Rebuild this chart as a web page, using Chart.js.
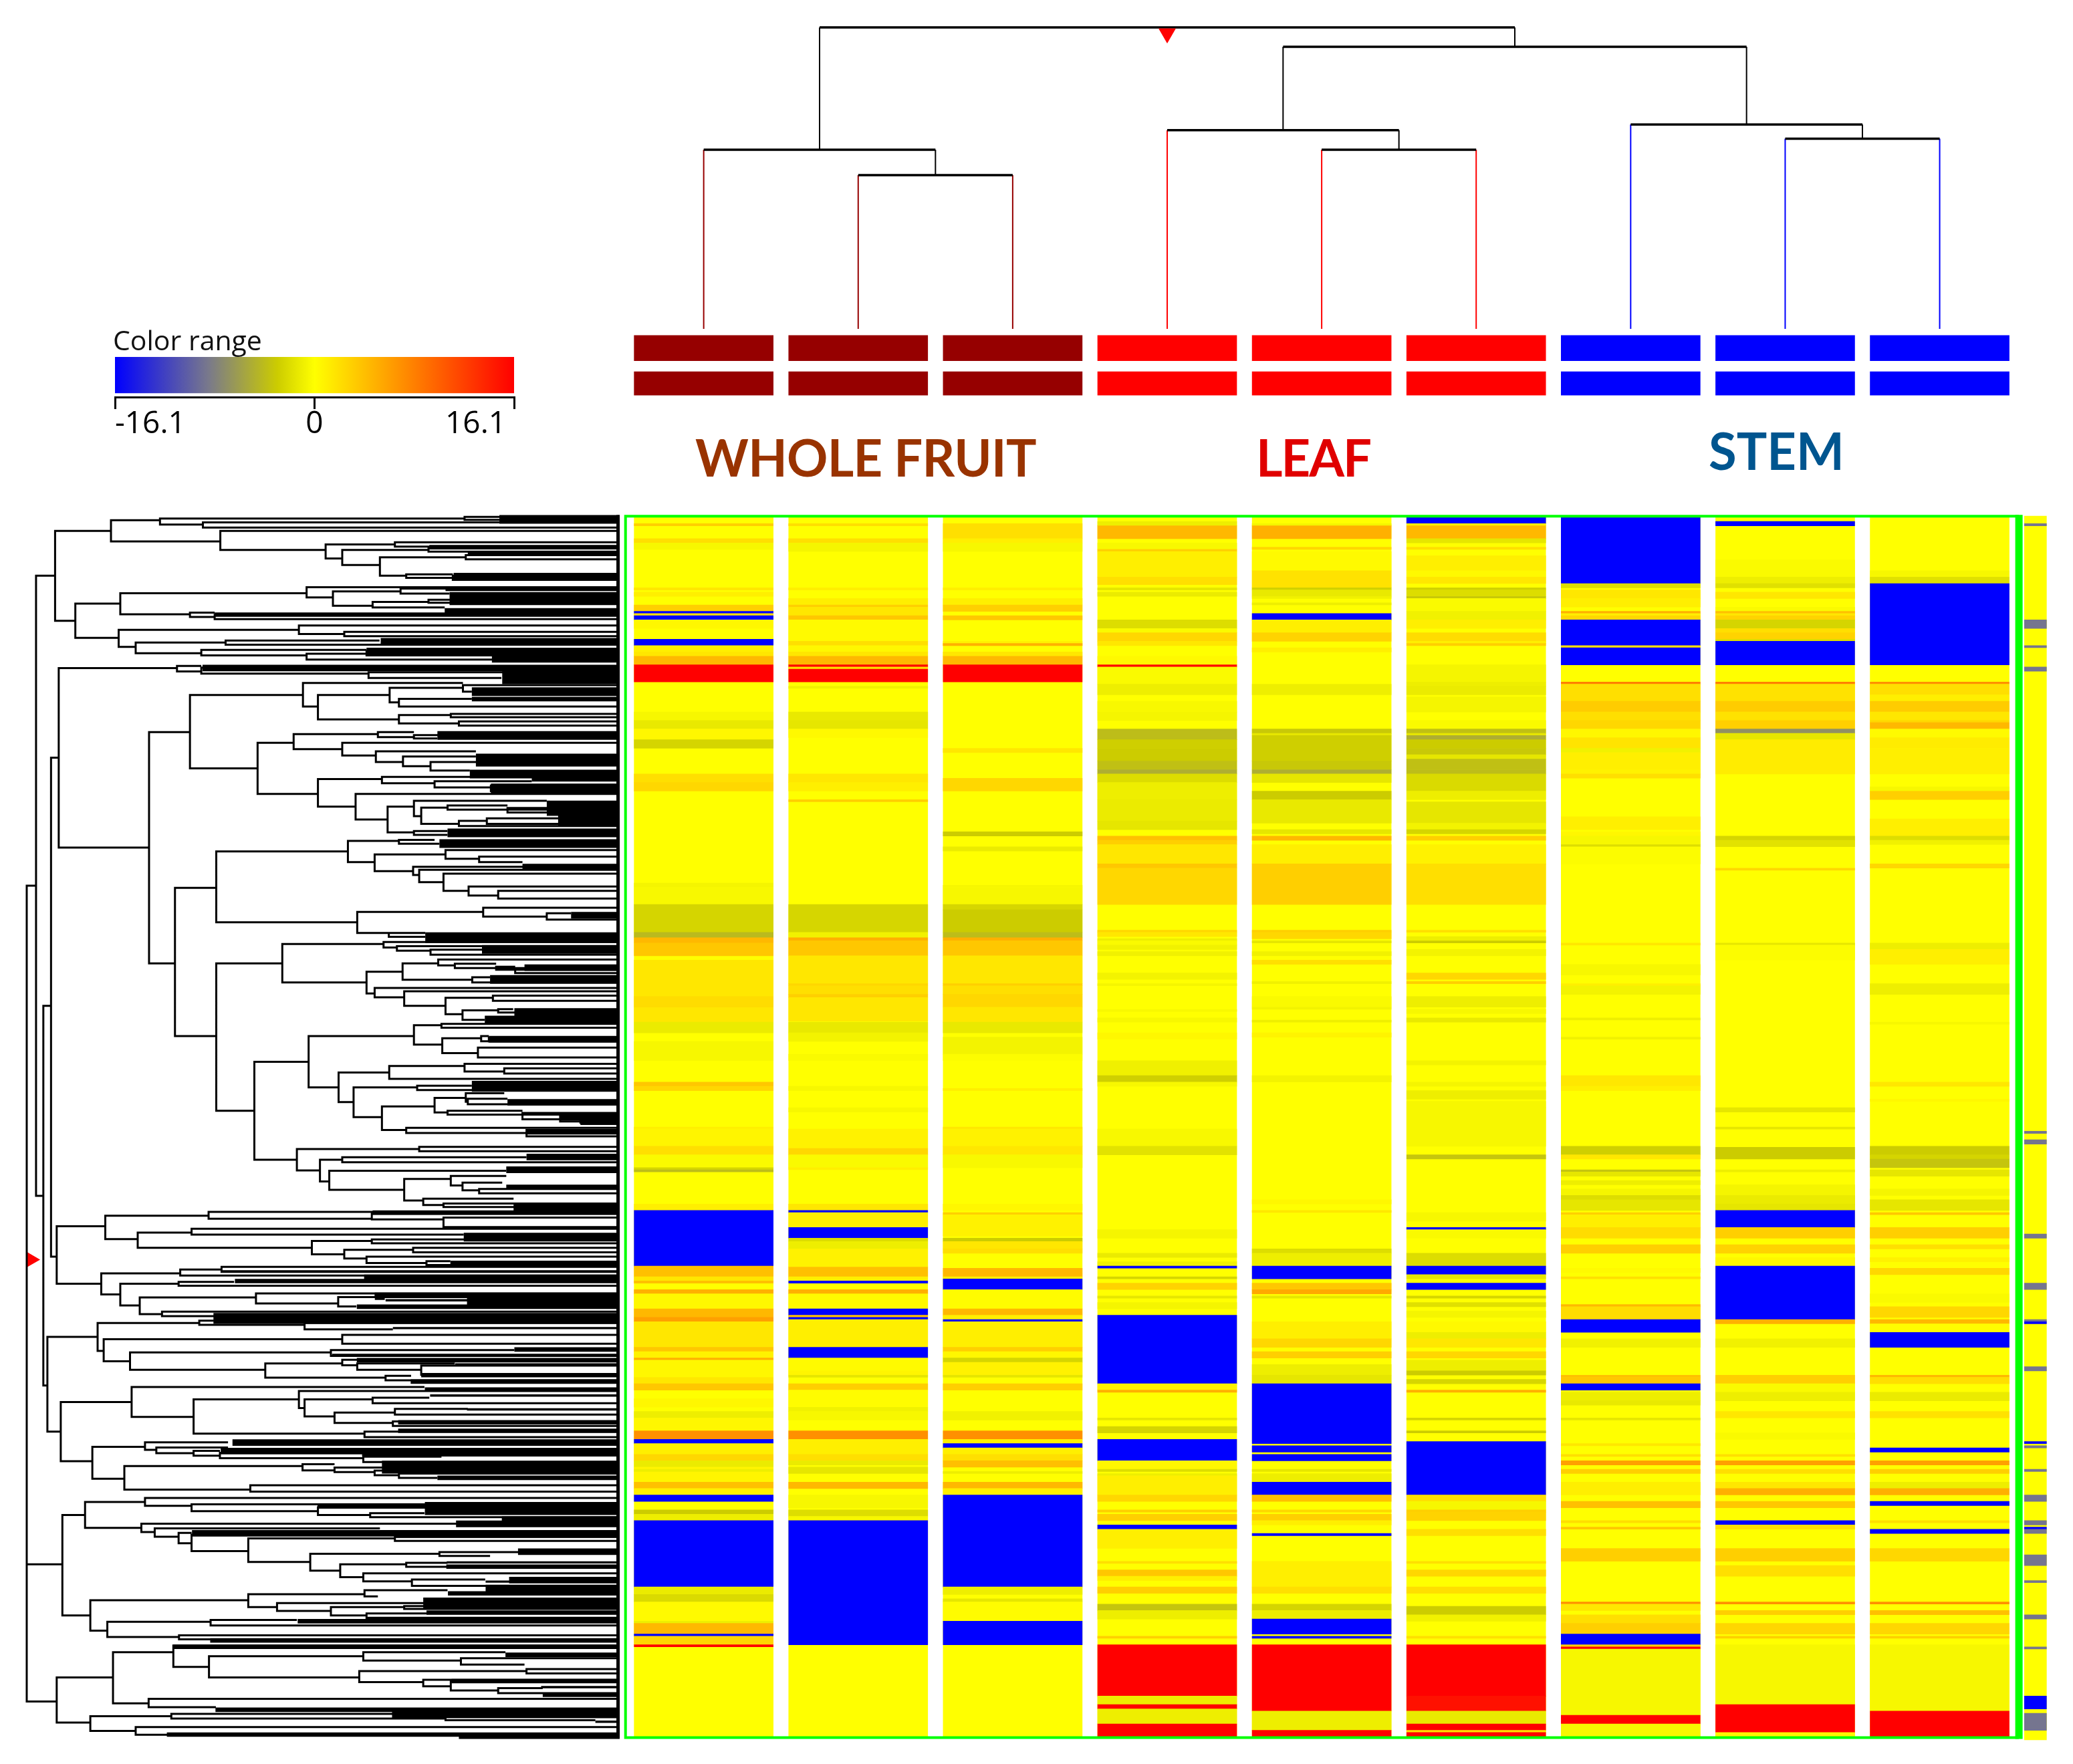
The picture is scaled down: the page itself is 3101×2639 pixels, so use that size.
<!DOCTYPE html>
<html>
<head>
<meta charset="utf-8">
<title>Expression heatmap</title>
<script src="https://cdn.jsdelivr.net/npm/chart.js@4"></script>
<style>
  html, body { margin: 0; background: #fff; }
  body { position: relative; width: 3101px; height: 2639px; overflow: hidden; }
  canvas { position: absolute; }
  #sampleTree { left: 914px; top: 20px; }
  #rangeBar { left: 100px; top: 534px; }
  #rowTree { left: 0; top: 761px; }
  #heatmap { left: 914px; top: 761px; }
  .label { position: absolute; white-space: nowrap; line-height: 1; }
  .group { font: bold 76px Lato, sans-serif; }
  #rangeTitle { left: 169px; top: 480px; font: 41px "Open Sans", sans-serif; color: #111; }
</style>
</head>
<body>
<canvas id="sampleTree" width="2184" height="580"></canvas>
<canvas id="rangeBar" width="750" height="120"></canvas>
<canvas id="rowTree" width="930" height="1850"></canvas>
<canvas id="heatmap" width="2184" height="1850"></canvas>
<div class="label" id="rangeTitle">Color range</div>
<div class="label group" style="left:1040px;top:638px;color:#993300;letter-spacing:-.7px">WHOLE FRUIT</div>
<div class="label group" style="left:1879px;top:638px;color:#e00000;letter-spacing:-2px">LEAF</div>
<div class="label group" style="left:2556px;top:628px;color:#00558f">STEM</div>
<script>
const rangeMax = 16.1;
const rangeTicks = [-16.1, 0, 16.1];
const rowCount = 570;

// bands per sample: first row, last row, log ratio (everything else is 0)
const wholeFruit1 = [[3,4,3],[10,12,2],[12,15,-.5],[33,34,1.5],[35,37,1],[41,44,3],[44,45,-16.1],[45,46,2],[46,48,-16.1],[48,52,.5],[57,60,-16.1],[60,63,1],[63,65,1.5],[65,69,4.5],[69,77,16.1],[91,95,-.5],[95,99,-1.3],[99,104,.5],[104,108,-2.5],[120,124,2],[124,128,2.5],[171,173,-.6],[173,181,-.4],[181,194,-2.5],[194,196.5,-4.2],[196.5,199,4.5],[199,205,3.5],[207,236,1.5],[224,229,2.2],[236,241,-1.2],[245,254,-.5],[264,266,3.5],[266,268,2.5],[285,286,1],[286,294,.6],[294,298,2],[298,304,-.3],[304,305,-2.5],[305,306,-4],[321,324,1],[324,350,-16.1],[350,355,4],[355,358,1.5],[357,358,4],[361,363,5],[363,370,.5],[370,374,4.5],[374,376,6],[376,388,1.5],[388,390,3.5],[390,393,.8],[393,394,5],[394,402,.5],[402,405,1.5],[405,408,3.5],[412,416,.5],[418,421,-1],[421,427,.5],[427,431,7],[431,433,-16.1],[433,438,1],[438,441,2.5],[441,444,-1.2],[444,451,.6],[445,446,-1],[451,454,4],[454,457,1],[457,460,-16.1],[464,466,-3],[466,469,-1],[469,500,-16.1],[500,503.5,-1.2],[503.5,507,-2.2],[507,516,.3],[516,517,-1],[517,522,4.5],[522,523,-16.1],[523,527,2.5],[527,528,16.1]];
const wholeFruit2 = [[3,4,2],[10,12,2],[12,16,-.6],[33,34,1],[38,41,1],[41,42,3],[42,46,1.5],[46,48,3.5],[48,58,.3],[58,60,2],[60,63,.5],[63,65,1.5],[65,69,4.5],[69,70,16.1],[70,71,2],[71,77,16.1],[79,80,-.8],[91,95,-1.3],[95,99,-1.5],[99,103,.4],[120,124,1.5],[124,128,1],[132,133,3],[181,194,-2.4],[194,196.5,-.8],[196.5,198,5],[198,205,3.5],[205,218,1.5],[218,219,2.5],[219,223,2],[223,224.5,3],[224.5,235.5,1.5],[236,241,-1.3],[241,245,-.7],[251,254,-.3],[266,268,-.5],[276,278,-.5],[286,295,.8],[295,298,2.5],[298,304,-.3],[304,305,1],[321,324,1.5],[324,325,-16.1],[325,332,1],[332,337,-16.1],[337,338.5,-2],[338.5,342,-1],[342,350.5,.8],[350.5,355,4],[355,357,1],[357,358,-16.1],[361,363,5],[363,370,.4],[370,373,-16.1],[373,374,4],[374,375,-16.1],[375,388,1],[388,393,-16.1],[393,399,.3],[399,401,.6],[401,402,-1.5],[405,408,3],[408,416,.2],[416,418,-.8],[418,422,-.5],[427,431,7],[431,438,1],[438,441,2],[441,443,-1.2],[444,447,-1.5],[451,454,4.5],[457,463,-.5],[464,467,-2],[467,469,-.5],[469,527,-16.1]];
const wholeFruit3 = [[3,10,2],[10,12,1],[12,16,-.5],[33,34,1],[38,41,1],[41,44,3],[46,48,3.5],[58,60,.8],[59,60,5],[63,65,1.5],[65,69,4.5],[69,77,16.1],[108,110,1.5],[122,128,2.5],[147,149,-3],[154,156,-1.2],[172,173,-.5],[173,181,-.5],[181,183.5,-2.4],[183.5,194,-3],[194,196.5,-4],[196.5,198,5],[198,205,3.5],[205,218,1.5],[218,219,3],[219,223,2],[223,229,2.5],[229,236,1.5],[236,241,-1.3],[243,251,-.7],[251,254,-.2],[267,268,1],[285,286,1.5],[286,294,.8],[294,298,1.5],[298,304,-.4],[321,324,.5],[325,326,3],[326,336,.8],[337,338.5,-3],[338.5,342,1.5],[342,344,2],[351,355,4.5],[355,356,1],[356,361,-16.1],[361,370,.2],[370,373,4.5],[373,375,1],[375,376,-16.1],[376,388,1],[388,390,3],[390,393,.5],[393,395,-2.5],[395,401,.8],[401,402,-1.5],[405,408,3],[418,422,-.8],[427,431,7],[431,433,1],[433,435,-16.1],[435,438,1],[438,441,2],[441,444,4],[446,447,-1],[451,454,4.5],[454,457,1],[457,500,-16.1],[500,503.5,-1],[505.5,507,-1.5],[507,516,.2],[516,527,-16.1]];
const leaf1 = [[2,4,-1],[4,10,4.5],[12,15,-.4],[15,16,3],[16,28,1],[28,31.5,2],[33,34,-1.5],[35,37,-1.2],[48,52,-2],[52,54,-.3],[54,58,2.5],[58,60,1.5],[65,69,.4],[69,70,16.1],[70,78,-.3],[78,83,-1],[86,91,-.4],[91,95,-.6],[99,104,-4],[104,108,-2.8],[108,114,-3],[114,118,-3.8],[118,120,-5],[120,124,-2],[124,132,-1],[132,142,-1.2],[142,146,-1.5],[149,151,4],[151,153,3],[153,162,1.5],[162,164,3.5],[164,181,2.5],[193,194,2.5],[194,196,1.5],[197,198,-1],[198,200,-.3],[200,202,-.8],[203,205,-.8],[213,216,-.7],[218,219,-.6],[230,231,-.4],[234,236,-.5],[241,244,.5],[254,261,-.9],[261,264,-2.8],[264,266,-.5],[286,294,-.4],[294,298,-1.7],[333,337,-.6],[344,346,-1.2],[348,350,-.8],[350,351,-16.1],[355,356,-2.5],[358,361,2.8],[364,365,-1.5],[367,370,-.6],[373,405,-16.1],[405,408,.8],[408,409,5],[421,422,-1.5],[425,428,-2.5],[431,441,-16.1],[441,445,.5],[445,446,-2],[447,448,-1],[448,457,1],[457,460,2.5],[464,465,3],[466,469,3],[471,473,-16.1],[473,482,1],[488,489,2],[492,495,3.5],[495,497,1],[500,503,3],[508,511,-3.5],[511,515,-1],[523,524,3],[527,551,16.1],[551,555,-1],[555,557,16.1],[557,564,-1],[564,570,16.1]];
const leaf2 = [[3,4,-.6],[4,10,5],[14,15,2.5],[16,25,.3],[25,33,1.8],[33,34,-2.7],[34,37,-1.3],[37,38,-.8],[40,41,-1],[45,48,-16.1],[48,54,1],[54,58,2.8],[61,63,1],[78,83,-1],[99,101,-3.3],[101,102,-1.5],[102,114,-2.8],[114,118,-3.3],[118,120,-5],[120,124,-1.5],[128,132,-3],[132,143,-1.3],[146,148,-1.5],[149,151,4.5],[153,162,1],[162,181,3],[193,194,3],[194,197,2.5],[198,199,-1.5],[203,205,-.8],[207,209,2],[217,218,-.8],[224,229,-.3],[229,230,-.7],[235,236,-1],[241,243,.7],[261,264,-.7],[319,321,.5],[324,325,1.5],[342,344,-2],[344,350,-1],[350,356,-16.1],[358,361,3.5],[361,363,5.5],[364,365,-1.5],[376,384,1],[384,388,2.5],[390,393,3],[396,401,-1],[401,405,-1.5],[405,433,-16.1],[434,437,-16.1],[438,441,-16.1],[445,446,-1.5],[447,451,-1],[451,457,-16.1],[457,460,4],[464,465,2.5],[466,469,3],[469,471,1],[475,476,-16.1],[488,500,1],[500,503,2],[508,511,-2.5],[511,515,-1],[515,522,-16.1],[523,524,-16.1],[527,558,16.1],[558,567,-1],[567,570,16.1]];
const leaf3 = [[0,3,-16.1],[3,4,1],[4,10,4.5],[10,12,-1.5],[14,15,2],[18,25,1],[25,28,.4],[28,31,1.5],[33,34,-2.7],[34,37,-2],[37,38,-3.3],[38,44,-.3],[44,48,-.8],[48,52,1],[54,58,2.2],[58,59,1],[59,60,3],[69,77,-.6],[77,79,-1],[79,83,-1.2],[84,91,-.6],[95,99,-.3],[99,101,-3.8],[101,102,-1.5],[102,104,-5],[104,108,-3],[108,111,-3.3],[111,113,-1.5],[113,118,-3.8],[118,120,-4],[120,128,-2.2],[128,132,-1],[133,143,-1.5],[143,146,-.7],[146,148,-2.5],[149,151,3],[153,162,.8],[162,181,2],[193,194,2],[196,198,-1],[198,199,-3],[202,205,-.7],[213,216,2.5],[217,218,3],[224,229,-1],[230,232,-.5],[234,236,-1.3],[254,256,-.7],[264,266,-.6],[268,272,-1],[273,276,-.5],[276,294,-.5],[298,300,-3.5],[325,329,-.5],[332,333,-16.1],[333,337,-.3],[344,350,-2],[350,354,-16.1],[354,356,-1.5],[358,361,-16.1],[364,365,-2.5],[367,369,-1.8],[371,374,-.6],[376,381,.4],[381,384,-1],[384,388,1.5],[390,393,2.5],[394,399,-1],[399,401,-3],[403,405,-2.4],[408,409,5],[421,422,-2.5],[427,428,-3],[432,457,-16.1],[457,460,2],[460,464,-.5],[464,465,3],[465,469,2.8],[473,476,2],[488,489,2],[492,495,2.5],[500,503,2],[509,513,-3],[513,516,-.8],[523,524,2],[527,551,16.1],[551,558,15],[558,564,-1.3],[564,567,16.1],[567,568,2],[568,570,16.1]];
const stem1 = [[0,31,-16.1],[31,33,-2],[34,38,1.5],[38,42,1],[44,45,5],[45,46,1],[46,48,2.5],[48,60,-16.1],[60,61,2],[61,69,-16.1],[77,78,8],[78,86,2],[86,91,3.2],[91,95,2],[95,99,2.5],[99,103,.5],[103,108,1.7],[108,110,-.8],[110,118,1],[118,120,.8],[120,122,2],[140,146,1],[147,149,.5],[149,153,-.5],[153,154,-2],[154,162,-.2],[199,200,1.5],[209,214,-.5],[218,219,1],[219,223,-.7],[234,235,-1],[243,244,-.8],[261,266,1.5],[266,268,1],[294,298,-2.8],[298,300,1.5],[305,306,-3.5],[306,308,-1.5],[310,312,-1],[314,317,-.6],[317,319,-2],[319,324,-1.5],[325,326,3],[326,332,1],[332,337,2.2],[340,344,3],[351,353,.3],[355,356,2],[368,369,4.5],[369,375,2.2],[375,381,-16.1],[384,388,-.8],[401,402,4],[402,405,3.5],[405,408,-16.1],[409,413,-1],[413,415,-1.3],[421,422,-1.5],[433,434,1.5],[438,439,2],[441,443,6],[445,447,3],[451,457,1],[460,463,4],[469,470,2],[472,473,3.5],[482,488,3],[507,508,7],[508,511,1.5],[513,517,2],[517,522,3],[522,527,-16.1],[527,528,3],[528,529,16.1],[529,560,-.5],[560,564,16.1],[564,570,-.5]];
const stem2 = [[2,4,-16.1],[20,28,-.3],[28,31,-1],[31,33,-1.8],[35,38,1.5],[42,44,-.3],[44,45,4],[45,46,1.5],[46,48,2.8],[48,52,-2.5],[52,54,2],[54,57,2.8],[57,58,-2],[58,69,-16.1],[77,78,8],[78,86,1.8],[86,91,3.2],[91,95,1.8],[95,99,3],[99,101,-7],[101,104,-1.5],[104,120,1.2],[149,151,-2.5],[151,154,-1.7],[164,165,2.5],[199,200,-1.5],[200,207,-.2],[276,278,-1.5],[285,286,-1.5],[294.5,300,-3],[305,306,-1],[312,324,-.6],[317,321,-1.2],[321,324,-1.5],[324,332,-16.1],[332,337,3],[340,344,2.8],[346,350,.5],[350,375,-16.1],[375,377,5],[384,388,-.8],[401,405,3],[405,409,-.3],[409,413,-1],[418,421,1.5],[428,431,-.3],[438,439,2],[441,443,6],[445,447,2],[451,454,1.5],[454,457,5],[460,463,3.5],[469,471,-16.1],[471,473,2],[482,488,3],[490,495,2],[507,508,7],[511,513,3],[517,522,2.5],[523,524,3],[527,555,-.5],[555,568,16.1],[568,570,.5]];
const stem3 = [[25,28,-.5],[28,31,-1.8],[31,69,-16.1],[77,78,7],[78,83,2],[83,86,1],[86,91,3.2],[91,95,1.5],[95,96,2.5],[96,99,4.5],[99,103,.3],[103,108,1.2],[108,120,1],[126,128,-.5],[128,132,3],[141,149,1],[149,151,-2],[151,153,-.8],[162,164,2.5],[199,202,-1],[202,205,1],[205,209,1],[218,223,-1],[236,237,-.5],[264,266,1.5],[272,273,.5],[294,298,-3],[298,300,-2.5],[300,304,-3.5],[305,308,-1.5],[314,317,-.6],[319,324,-1.5],[325,326,3.5],[332,337,3],[340,342,2],[346,348,.8],[351,354,2.5],[363,367,-.3],[369,374,2.5],[375,377,4.5],[377,381,.2],[381,388,-16.1],[401,402,4.5],[402,405,2],[409,413,-1.2],[418,421,1.8],[435,437,-16.1],[441,443,6],[445,447,3],[451,454,-1],[454,457,5],[460,462,-16.1],[469,470,2],[473,475,-16.1],[482,488,2.5],[507,508,7],[511,513,4],[517,522,2.5],[523,524,3],[527,558,-.5],[558,570,16.1]];
const summaryStrip = [[3,4,-8.8],[48,52,-8.8],[60,61,-8.8],[70,72,-8.8],[287,288,-8.8],[291,293,-8.8],[335,337,-8.8],[358,361,-8.8],[375,376,-8.8],[376,377,-16.1],[397,399,-8.8],[432,433,-16.1],[434,435,-8.8],[445,446,-8.8],[457,460,-8.8],[469,471,-8.8],[472,473,-16.1],[473,475,-8.8],[485,490,-8.8],[497,498,-8.8],[513,515,-8.8],[528,529,-8.8],[551,557,-16.1],[559,567,-8.8]];

const samples = ["Whole fruit 1", "Whole fruit 2", "Whole fruit 3", "Leaf 1", "Leaf 2", "Leaf 3", "Stem 1", "Stem 2", "Stem 3"];
const sampleBands = [wholeFruit1, wholeFruit2, wholeFruit3, leaf1, leaf2, leaf3, stem1, stem2, stem3];
const sampleColors = ["#960000", "#960000", "#960000", "#ff0000", "#ff0000", "#ff0000", "#0000ff", "#0000ff", "#0000ff"];

// sample tree merges: left, right, height, left child height, right child height
const sampleMerges = [[1,2,.51,0,0],[0,1.5,.594,0,.51],[4,5,.594,0,0],[3,4.5,.659,0,.594],[7,8,.631,0,0],[6,7.5,.678,0,.631],[3.75,6.75,.936,.659,.678],[.75,5.25,1,.594,.936]];
const trackUpper = [-0.106, -0.022];
const trackLower = [-0.22, -0.142];

// row tree brackets: depth, top row, top child depth, bottom row, bottom child depth
const rowBrackets = [[395,.6,1147,3.4,501],[1147,-.2,1233,1.2,1530],[501,2.4,1530,4.8,1530],[274,1.4,395,11.3,544],[544,6.4,1530,15.3,804],[804,12.7,975,19.3,845],[975,11.7,1530,13.7,1530],[845,15.3,1058,22.3,938],[1058,14.5,1530,16.1,1530],[938,18.7,1150,27.3,1003],[1150,17.7,1530,19.7,1530],[1003,26.7,1118,28.3,1530],[1118,27.3,1530,29.3,1530],[136,6.4,274,48.4,186],[186,40.4,297,56.4,293],[297,35.5,757,45.4,469],[757,32.7,1530,37.5,822],[822,34.7,989,41.4,920],[989,33.3,1530,35.7,1110],[920,39.6,1058,42.2,1098],[1058,38.6,1228,40,1530],[469,44.6,530,46.6,530],[530,45.6,1530,47.6,1530],[293,52.6,738,60.6,335],[738,50.6,1530,54.6,850],[850,53.6,1530,55.6,1530],[335,58.6,557,63.6,497],[557,57.6,937,59.6,1530],[497,62,905,64.6,757],[905,62.6,1530,64.6,1530],[757,63.8,1530,66.5,1217],[1217,65.5,1530,67.5,1530],
[89,27.3,136,317.2,107],[66,172.2,89,553.5,140],[66,489.4,154,489.4,154],[107,228.4,126,405.8,117],[126,112.4,145,345.6,140],[145,70.5,437,154.4,368],[437,69.5,497,72.1,497],[497,70.3,1530,73.1,910],[910,72.5,1360,75.1,1238],[368,100.4,469,208.5,432],[469,83.1,748,117.4,636],[748,77.5,1143,88.5,785],[1143,78.5,1530,81.5,1165],[785,83.1,962,94.5,985],[962,79.7,1143,86.5,985],[985,84.9,1165,88.5,1530],[985,92.5,1113,96.4,1133],[1113,91.9,1530,93.5,1530],[1133,95.4,1530,97.4,1530],[636,105.4,725,129.3,785],[725,101.4,933,108.4,845],[933,100.4,1022,102.8,1022],[1022,101.8,1530,103.4,1080],[845,105.4,1530,111.4,928],[928,109.4,1175,114.4,995],[995,111.8,1175,116.4,1063],[1063,114.4,1345,118.4,1160],[785,122.4,943,135.3,878],[943,121.4,1313,124.3,1073],[1073,123.4,1313,126.3,1212],[1212,125.4,1530,128,1530],[878,129.3,1530,141.3,957],[957,135.3,1022,147.3,1022],[1022,132.5,1350,139.7,1040],[1040,135.7,1105,143.3,1133],[1105,134.7,1253,136.7,1530],[1253,135.9,1378,138,1530],[1133,141.9,1202,144.3,1530],[1202,140.7,1530,143.3,1530],[1022,146.7,1105,148.5,1105],
[432,173.2,534,242.5,534],[534,156.2,859,189.3,882],[859,151.3,985,161.2,925],[985,150.8,1073,152.6,1085],[925,157.6,1100,165.4,1020],[1100,155.6,1530,159.6,1183],[1183,158.6,1530,161.2,1290],[1020,163.4,1530,167.2,1035],[1035,164.8,1530,170.6,1095],[1095,166.6,1530,174.6,1157],[1157,172.6,1530,176.8,1230],[1230,174.6,1530,178.2,1530],[882,184.5,1193,194.3,960],[1193,182.5,1530,186.7,1350],[1350,185.1,1410,188.1,1530],[960,194.3,1050,196.1,1050],[534,208.5,697,277.4,628],[697,199.5,947,217.4,905],[947,198.5,1530,201.1,980],[980,200.5,1190,202.6,1063],[1063,202.1,1530,204.5,1530],[905,212.4,994,222.6,925],[994,208.5,1082,216.2,1166],[1082,206.7,1530,209.5,1123],[1123,208.7,1225,210.7,1530],[1225,210.1,1272,211.5,1530],[1272,211.1,1295,213.1,1530],[1166,215,1210,217.4,1530],[925,220,1530,224.4,998],[998,221.6,1530,228.4,1100],[1100,224.6,1217,232.3,1142],[1217,223.6,1530,226,1530],[1142,230.5,1230,234.9,1197],[1230,229.9,1267,231.5,1530],
[628,254.5,762,300.3,733],[762,242.5,1022,266.5,836],[1022,237.4,1090,246.5,1092],[1090,236.8,1530,238.6,1530],[1092,243.5,1188,250.5,1180],[1188,242.5,1207,244.9,1530],[1207,243.3,1530,245,1530],[1180,247.9,1530,252.5,1530],[836,259.5,961,273.4,873],[961,256.5,1147,262.5,1530],[1147,255.5,1530,259.1,1245],[1245,257.6,1530,260,1530],[873,266.5,1030,280.4,943],[1030,265.7,1165,267.7,1530],[943,275.4,1073,286.4,1003],[1073,271.4,1150,278.2,1105],[1150,269.2,1245,273.2,1155],[1155,271.8,1253,274.4,1530],[1105,277.4,1290,279.2,1530],[1290,278.4,1530,281.4,1383],[1383,279.8,1530,282.4,1433],[1433,281.4,1530,283,1530],[1003,285.4,1530,287.8,1300],[1300,286.4,1530,289.4,1530],[733,295.3,1035,305.3,790],[1035,294.3,1530,296.3,1530],[790,300.3,845,310.5,813],[845,299.1,1300,301.5,1530],[813,305.5,1250,314.4,998],[998,309.3,1113,319.4,1045],[1113,307.9,1250,312.3,1142],[1142,311,1240,314.6,1183],[1183,314,1530,316,1530],[1045,318.5,1268,321.5,1095],[1095,320.8,1530,322.4,1530],
[140,331.4,260,358.3,250],[260,326.5,515,337.4,340],[515,324.7,1530,327.9,918],[918,325.6,1530,328.2,1095],[1095,327.3,1530,331.8,1530],[340,334.4,473,341.5,770],[473,332.6,1530,335.3,1145],[770,338.3,918,344.5,850],[918,337.6,1530,339.4,1530],[850,342.4,1020,346.5,905],[1020,341.5,1530,343.6,1530],[905,345.6,1530,348.6,1053],[1053,347.7,1112,349.5,1530],[250,353.4,445,363.3,297],[445,351.6,547,354.4,1530],[547,350.4,1530,352.7,1530],[297,358.3,441,368.4,345],[441,357.4,578,359.2,1530],[345,364.7,632,372.5,400],[632,362.8,928,367.5,835],[928,362.8,1530,365.4,950],[835,364.5,1530,368.9,880],[400,371.3,1530,373.4,1530],
[117,383.1,241,427.4,150],[241,376.6,492,389.7,256],[492,375.5,528,377.5,752],[752,376.6,1530,379.6,970],[256,384.2,845,394.5,321],[845,382.2,1530,386.3,1530],[321,390.4,817,398.5,655],[817,389.3,1270,392,1530],[655,395.5,845,402.2,952],[845,393.8,1530,396.4,882],[882,395.5,1123,398.5,1040],[1040,396.5,1530,400.8,1530],[952,401.3,1015,403.4,1530],[150,413.6,325,441.2,228],[325,406.5,1048,420.5,478],[478,412.3,738,428.3,900],[738,408.4,1530,416.4,752],[752,412.3,920,420.3,826],[920,411.5,1060,414.1,1530],[826,418.5,975,423.3,970],[975,416.8,1155,419.4,1530],[970,422.6,985,424.7,1530],[900,427.4,1530,430,1530],[228,434.5,358,449.4,307],[358,432.4,563,435.9,386],[386,434.8,563,437.5,478],[478,436.4,543,438.6,543],[543,437.3,1530,439.8,897],[897,439.1,1090,441.6,1530],[307,443.5,747,454.5,618],[747,442.6,826,445.5,826],[826,444.2,945,446.3,925],[925,445.6,985,447.8,985],[985,447,1530,449,1080],[618,452.5,1530,455.4,1530],
[154,466.4,210,513.3,223],[210,460.3,358,472.4,349],[358,458.4,1530,462.1,473],[473,461.4,1530,464.6,785],[785,462.8,945,466.4,914],[914,465.5,1048,467.4,1530],[349,470.4,1530,474.3,382],[382,472.6,938,476.5,441],[441,474.7,473,479.6,473],[473,475.6,1530,483.2,613],[613,477.3,975,488.3,766],[975,476.5,1530,478.5,1530],[766,484.5,1085,492.4,840],[1085,483.7,1280,485.5,1210],[840,489.4,1003,495.4,897],[1003,488.7,1105,490.6,1530],[897,493.6,1530,497.4,1017],[1017,496.5,1198,499.5,1530],[223,506.2,613,520.4,265],[613,503.4,900,509.4,684],[900,501.5,1105,504.4,933],[684,507.5,1530,511.2,817],[817,509.4,998,513.3,905],[998,508.9,1053,510.3,1530],[905,512.4,1530,514.5,1530],[265,516.3,520,523.4,442],[520,515.4,733,518,1530],[442,522.6,1530,524.5,1530],[140,542.3,279,563.4,223],[279,530.5,428,554.4,367],[428,527.4,1530,537.4,516],[516,532.4,897,542.3,887],[897,530.5,1248,534.4,1138],[1138,533.3,1530,536.3,1295],[887,539.3,1300,544.5,1045],[1300,538.4,1530,540.4,1530],[1045,543.4,1530,546.4,1113],[1113,544.3,1335,548.4,1230],[1230,547.3,1340,549.6,1530],[367,552.3,1530,556.2,533],[223,560.4,423,567.3,335],[423,559.3,970,561.5,1100],[1100,560.2,1530,562.3,1470],[335,565.5,1530,569.1,413]];

// runs of tightly packed leaves: first row, last row, depth they start at
const leafRuns = [[-1,3,1233],[13,15.5,1060],[16,18,1155],[26,28,1120],[32.5,34.5,1100],[35,41.5,1110],[42.5,45,1098],[44.5,46.5,530],[56.5,60,940],[61,65,905],[65.5,68,1217],[69,72,500],[72,78.5,1240],[79.5,84,1165],[84,86,1165],[100,104.5,1080],[110.5,117,1175],[118,122.5,1160],[121.5,124,1313],[124.5,129.5,1212],[132.5,139.5,1350],[138.5,144.5,1378],[145.5,149.5,1105],[150.5,154.5,1085],[162,165,1290],[184.5,187.5,1410],[194,199,1050],[200,204.5,1190],[209,212,1295],[214,218,1210],[229.5,237,1270],[233,237,1197],[242.5,246,1207],[263.5,268.5,1165],[272,275,1253],[279,282.5,1383],[281,284,1433],[286.5,288.5,1300],[297.5,300.5,1300],[303.5,307,1250],[312,314,1250],[321,324,1268],[324,326,920],[334.5,339,1145],[347.5,349.5,1112],
[352,353,545],[354,358,899],[356,358,580],[362.4,364,925],[365,370,1153],[365.5,367,952],[368,370,881],[372,377,527],[378.5,380,970],[388,390,1270],[391,392,820],[393,395.5,881],[395.5,397,1124],[400,402,1040],[403,405,1014],[406.7,409,1049],[410,411.5,1062],[416.5,418,1153],[422,424,983],[426,428,983],[431,434,574],[435,438,545],[438,439,894],[441,447,943],[448,450,1080],[460.3,466,1049],[461.4,463,784],[467,472,1239],[469,472,1126],[473.4,476,474],[476,477,974],[482,485,1279],[488,489.5,1103],[489.5,491.6,1102],[495.3,498,1257],[497,498,1199],[499,502,1199],[502,503.6,1106],[505,510,1045],[511,513,1053],[514,517,903],[515,517,735],[524,526,519],[527,529,428],[530.7,532.7,1248],[543,544.7,1115],[546.3,547,1336],[549.4,551,1340],[556.4,558.3,532],[558.3,561,968],[562.5,564,1470],[568,570.4,412],[570,571,1133]];
const leafEnd = 1530;

const colorStops = [[-16.1,[0,0,255]],[-8.5,[122,122,138]],[-3,[204,204,0]],[0,[255,255,0]],[8,[255,128,0]],[16.1,[255,0,0]]];

function ratioColor(v) {
  v = Math.max(-rangeMax, Math.min(rangeMax, v));
  for (let i = 1; i < colorStops.length; i++) {
    const [hi, c1] = colorStops[i];
    if (v <= hi) {
      const [lo, c0] = colorStops[i - 1];
      const t = (v - lo) / (hi - lo);
      return "rgb(" + c0.map((c, k) => Math.round(c + (c1[k] - c) * t)).join(",") + ")";
    }
  }
  return "rgb(255,0,0)";
}

Chart.defaults.animation = false;
Chart.defaults.responsive = false;
Chart.defaults.devicePixelRatio = 1;
Chart.defaults.plugins.legend.display = false;
Chart.defaults.plugins.tooltip.enabled = false;
Chart.defaults.elements.point.radius = 0;
Chart.defaults.layout.autoPadding = false;

const sampleScale = { type: "linear", display: false, offset: false, min: -0.6, max: 8.85 };
const segment = (points) => points.concat([{ x: null, y: null }]);

// top: sample tree and the two colour tracks
const treeBars = sampleMerges.flatMap(([l, r, h]) => segment([{ x: l, y: h }, { x: r, y: h }]));
const treeStems = [];
const leafStems = sampleColors.map(() => []);
sampleMerges.forEach(([l, r, h, lh, rh]) => {
  [[l, lh], [r, rh]].forEach(([x, childH]) => {
    if (childH === 0) leafStems[x].push({ x: x, y: h }, { x: x, y: 0 });
    else treeStems.push(...segment([{ x: x, y: h }, { x: x, y: childH }]));
  });
});
new Chart(document.getElementById("sampleTree"), {
  type: "bar",
  data: {
    datasets: [
      { type: "line", data: treeBars, borderColor: "#000", borderWidth: 3.5, order: 1 },
      { type: "line", data: treeStems, borderColor: "#000", borderWidth: 2, order: 2 },
      ...leafStems.map((pts, i) => ({ type: "line", data: pts, borderColor: sampleColors[i], borderWidth: 2, order: 3 })),
      { type: "scatter", data: [{ x: 3, y: 0.98 }], pointStyle: "triangle", rotation: 180, pointRadius: 15, backgroundColor: "#ff0000", borderWidth: 0, order: 0 },
      { data: samples.map((s, i) => ({ x: i, y: trackUpper })), backgroundColor: sampleColors, barThickness: 208, grouped: false, order: 4 },
      { data: samples.map((s, i) => ({ x: i, y: trackLower })), backgroundColor: sampleColors, barThickness: 208, grouped: false, order: 4 },
    ],
  },
  options: {
    layout: { padding: 0 },
    scales: { x: sampleScale, y: { type: "linear", display: false, min: -0.2395, max: 1.0466 } },
  },
});

// colour range legend
new Chart(document.getElementById("rangeBar"), {
  type: "bar",
  data: {
    datasets: [{
      data: [{ x: [-rangeMax, rangeMax], y: 0.55 }],
      barThickness: 54,
      backgroundColor: (ctx) => {
        const area = ctx.chart.chartArea;
        if (!area) return "#ff0";
        const g = ctx.chart.ctx.createLinearGradient(area.left, 0, area.right, 0);
        colorStops.forEach(([v, c]) => g.addColorStop((v + rangeMax) / (2 * rangeMax), "rgb(" + c.join(",") + ")"));
        return g;
      },
    }],
  },
  options: {
    indexAxis: "y",
    layout: { padding: { left: 72, right: 81, top: 0, bottom: 0 } },
    scales: {
      y: { type: "linear", display: false, offset: false, min: 0, max: 1 },
      x: {
        type: "linear",
        min: -rangeMax,
        max: rangeMax,
        afterBuildTicks: (axis) => { axis.ticks = rangeTicks.map((v) => ({ value: v })); },
        border: { color: "#000", width: 3 },
        grid: { drawOnChartArea: false, color: "#000", lineWidth: 3, tickLength: 18 },
        ticks: { align: "inner", maxRotation: 0, padding: 0, color: "#000", font: { family: "Open Sans", size: 46, lineHeight: 1 }, callback: (v) => (v === rangeMax ? v + " " : String(v)) },
      },
    },
  },
});

// left: row tree
const bracketPoints = rowBrackets.flatMap(([d, r0, d0, r1, d1]) =>
  segment([{ x: d0, y: r0 }, { x: d, y: r0 }, { x: d, y: r1 }, { x: d1, y: r1 }])
);
const leafPoints = [];
leafRuns.forEach(([r0, r1, d]) => {
  for (let r = r0 + 0.5; r < r1; r += 1) leafPoints.push(...segment([{ x: d, y: r }, { x: leafEnd, y: r }]));
});
new Chart(document.getElementById("rowTree"), {
  type: "scatter",
  data: {
    datasets: [
      { data: bracketPoints, showLine: true, borderColor: "#000", borderWidth: 3 },
      { data: leafPoints, showLine: true, borderColor: "#000", borderWidth: 3.4 },
      { data: [{ x: 1526, y: -1 }, { x: 1526, y: 570.5 }], showLine: true, borderColor: "#000", borderWidth: 5 },
      { data: [{ x: 76, y: 347 }], pointStyle: "triangle", rotation: 90, pointRadius: 14, backgroundColor: "#ff0000", borderWidth: 0 },
    ],
  },
  options: {
    layout: { padding: 0 },
    scales: {
      x: { type: "linear", display: false, min: 0, max: 1535 },
      y: { type: "linear", display: false, reverse: true, min: -4, max: rowCount + 4 },
    },
  },
});

// heatmap, summary strip and frame
const bandsToBars = (bands, x) =>
  [[0, rowCount, 0]].concat(bands).map(([r0, r1, v]) => ({ x: x, y: [r0, r1], v: v }));
const bandColor = (ctx) => (ctx.raw ? ratioColor(ctx.raw.v) : "#ff0");
const frameLeft = -0.506, frameRight = 8.513, frameTop = -0.5, frameBottom = 570.4;
new Chart(document.getElementById("heatmap"), {
  type: "bar",
  data: {
    datasets: [
      ...sampleBands.map((bands, i) => ({
        label: samples[i],
        data: bandsToBars(bands, i),
        backgroundColor: bandColor,
        barThickness: 208,
        grouped: false,
      })),
      {
        label: "Summary",
        data: [[-0.5, 571.5, 0]].concat(summaryStrip).map(([r0, r1, v]) => ({ x: 8.62, y: [r0, r1], v: v })),
        backgroundColor: bandColor,
        barThickness: 33,
        grouped: false,
      },
      { type: "line", data: [{ x: frameRight, y: frameTop }, { x: frameLeft, y: frameTop }, { x: frameLeft, y: frameBottom }, { x: frameRight, y: frameBottom }], borderColor: "#00ff00", borderWidth: 4, order: -1 },
      { type: "line", data: [{ x: frameRight, y: frameTop - 0.6 }, { x: frameRight, y: frameBottom + 0.6 }], borderColor: "#00ff00", borderWidth: 11, order: -1 },
    ],
  },
  options: {
    layout: { padding: 0 },
    scales: {
      x: sampleScale,
      y: { type: "linear", display: false, reverse: true, min: -4, max: rowCount + 4 },
    },
  },
});
</script>
</body>
</html>
